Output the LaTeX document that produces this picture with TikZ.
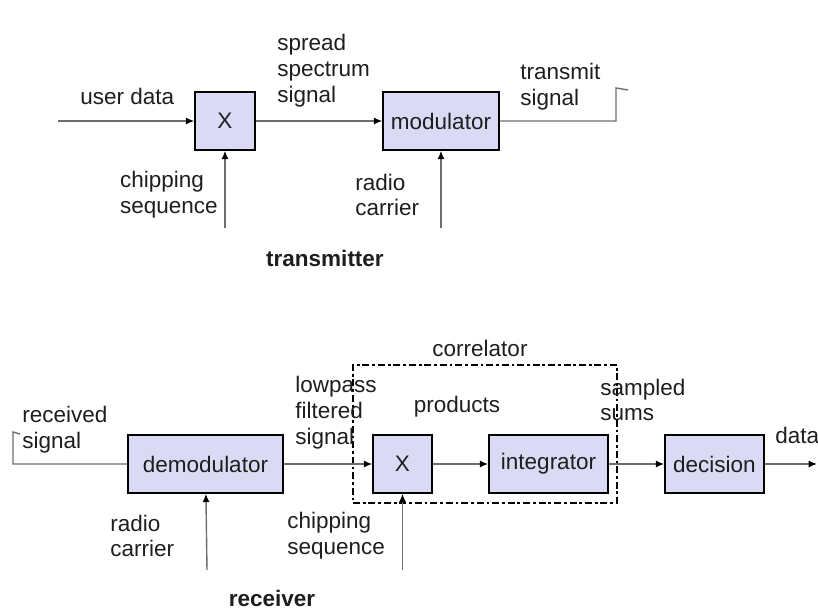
\documentclass[tikz,border=0pt]{standalone}
\usepackage{fontspec}
\setmainfont{Liberation Sans}
\usepackage{tikz}
\usetikzlibrary{arrows.meta}
\definecolor{boxfill}{RGB}{218,218,245}
\definecolor{wire}{RGB}{110,110,110}
\definecolor{ink}{RGB}{30,30,30}

\begin{document}
\begin{tikzpicture}[x=0.025cm,y=-0.025cm,
    block/.style={draw=black,line width=1pt,fill=boxfill,minimum height=1.45cm,
      inner sep=0pt,text=ink,font=\fontsize{16}{18.4}\selectfont},
    sig/.style={draw=wire,line width=1pt,-{Latex[length=6pt,width=5pt,color=black]}},
    wireline/.style={draw=wire,line width=1pt},
    lbl/.style={inner sep=0pt,align=left,text=ink,font=\fontsize{16}{18.4}\selectfont},
    title/.style={inner sep=0pt,text=ink,font=\fontsize{16}{18.4}\selectfont\bfseries},
    corrbox/.style={draw=black,line width=0.9pt,dash pattern=on 5pt off 2pt on 2pt off 2pt,
      minimum width=6.6cm,minimum height=3.45cm,inner sep=0pt}]
  \useasboundingbox (0,0) rectangle (818,609);

  % transmitter
  \begin{scope}
    \node[block,minimum width=1.5cm] (txmult) at (225,121) {X};
    \node[block,minimum width=2.9cm] (mod) at (441,121) {modulator};
    \coordinate (userin) at (58,121);
    \coordinate (txchip) at (225,228);
    \coordinate (txcarrier) at (441,228);
    \coordinate (txant) at (616,121);
    \coordinate (txtop) at (616,88);
    \coordinate (txhook) at (628,90);
    \draw[sig] (userin) -- (txmult);
    \draw[sig] (txchip) -- (txmult);
    \draw[sig] (txmult) -- (mod);
    \draw[sig] (txcarrier) -- (mod);
    \draw[wireline] (mod) -- (txant) -- (txtop) -- (txhook);
    \node[lbl,anchor=west] (userlbl) at (80,96) {user data};
    \node[lbl,anchor=east] (txchiplbl) at (218,195) {chipping\\sequence};
    \node[lbl,anchor=west] (spreadlbl) at (277,71) {spread\\spectrum\\signal};
    \node[lbl,anchor=west] (txcarrlbl) at (355,195) {radio\\carrier};
    \node[lbl,anchor=west] (txsiglbl) at (520,87) {transmit\\signal};
    \node[title] (txtitle) at (325,258) {transmitter};
  \end{scope}

  % receiver
  \begin{scope}
    \node[corrbox] (corr) at (485,434) {};
    \node[block,minimum width=3.875cm] (demod) at (205.5,464) {demodulator};
    \node[block,minimum width=1.475cm] (rxmult) at (402.5,464) {X};
    \node[block,minimum width=2.975cm] (integ) at (548.5,464) {integrator};
    \node[block,minimum width=2.475cm] (dec) at (714.5,464) {decision};
    \coordinate (rxhook) at (20,434);
    \coordinate (rxtop) at (13,432);
    \coordinate (rxant) at (13,464);
    \coordinate (rxcarrier) at (207,570);
    \coordinate (rxchip) at (402.5,570);
    \coordinate (dataout) at (817,464);
    \draw[wireline] (rxhook) -- (rxtop) -- (rxant) -- (demod);
    \draw[sig] (rxcarrier) -- (demod);
    \draw[sig] (demod) -- (rxmult);
    \draw[sig] (rxchip) -- (rxmult);
    \draw[sig] (rxmult) -- (integ);
    \draw[sig] (integ) -- (dec);
    \draw[sig] (dec) -- (dataout);
    \node[lbl,anchor=west] (rxsiglbl) at (22,430) {received\\signal};
    \node[lbl,anchor=west] (rxcarrlbl) at (110,536) {radio\\carrier};
    \node[lbl,anchor=west] (lowlbl) at (295,413) {lowpass\\filtered\\signal};
    \node[lbl,anchor=west] (rxchiplbl) at (287,536) {chipping\\sequence};
    \node[lbl] (prodlbl) at (457,407) {products};
    \node[lbl] (corrlbl) at (480,348) {correlator};
    \node[lbl,anchor=west] (sumlbl) at (600,400) {sampled\\sums};
    \node[lbl,anchor=west] (datalbl) at (775,435) {data};
    \node[title] (rxtitle) at (272,598) {receiver};
  \end{scope}
\end{tikzpicture}
\end{document}
